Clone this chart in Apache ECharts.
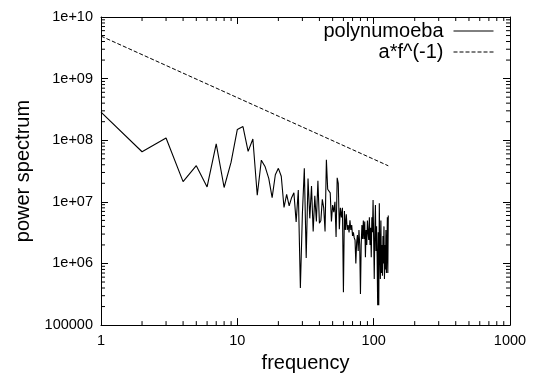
<!DOCTYPE html>
<html>
<head>
<meta charset="utf-8">
<script src="https://cdn.jsdelivr.net/npm/echarts@6/dist/echarts.min.js"></script>
<style>
html,body{margin:0;padding:0;background:#fff;}
#chart{width:536px;height:378px;}
</style>
</head>
<body>
<div id="chart"></div>
<script>
// ---- data ----
const frequency = [1,2,3,4,5,6,7,8,9,10,11,12,13,14,15,16,17,18,19,20,21,22,23,24,25,26,27,28,29,30,31,32,33,34,35,36,37,38,39,40,41,42,43,44,45,46,47,48,49,50,51,52,53,54,55,56,57,58,59,60,61,62,63,64,65,66,67,68,69,70,71,72,73,74,75,76,77,78,79,80,81,82,83,84,85,86,87,88,89,90,91,92,93,94,95,96,97,98,99,100,101,102,103,104,105,106,107,108,109,110,111,112,113,114,115,116,117,118,119,120,121,122,123,124,125,126,127,128];
const polynumoeba = [2.85e8,6.5e7,1.09e8,2.13e7,3.86e7,1.75e7,8.7e7,1.71e7,4.4e7,1.5e8,
  1.67e8,6.6e7,1.05e8,1.28e7,4.75e7,3.7e7,2.4e7,1.17e7,2.75e7,3.5e7,
  2.6e7,8.1e6,1.32e7,8.6e6,1.17e7,1.4e7,4.7e6,1.55e7,4.0e5,6.3e6,
  3.5e7,1.23e6,2.4e7,5.4e6,1.8e7,3.3e6,1.25e7,4.8e6,2.2e7,4.5e6,
  5.0e6,1.1e7,8e6,3.3e6,4.8e7,1.6e7,1.5e7,1.4e7,4.8e6,8.9e6,
  6.8e6,1.0e7,2.7e6,2.45e7,2.0e7,3.6e6,8e6,5.6e6,8e6,3.4e5,
  7.1e6,3.5e6,6.3e6,3.5e6,4.2e6,3.2e6,5e6,3.5e6,4.2e6,2.8e6,
  3.2e6,2.6e6,2.4e6,1.0e6,2.2e6,2.9e6,1.6e6,3.5e6,2e6,3.2e5,
  2e6,4.2e6,2.5e6,5e6,2.5e6,4.8e6,1.26e6,3.5e6,2e6,5e6,
  3.2e6,2.4e6,5.6e6,2e6,3.8e6,1.26e6,5.6e6,3.2e6,1.07e7,2.5e6,
  5.6e5,3.2e6,8.9e6,1.6e6,4e6,1.26e6,2.1e5,3.2e6,2.1e5,9.5e6,
  1.6e6,5.6e5,5e6,7e5,2e6,6.3e5,2.8e6,1e6,4e6,5.6e5,
  2e6,8e5,3.5e6,7e5,1.6e6,5.6e6,7e5,6e6];
const fitFrequency = [1, 128];
const fitPower = [4.9e9, 3.85e7];
const seriesNames = ['polynumoeba', 'a*f^(-1)'];
const xTickLabels = ['1','10','100','1000'];
const yTickLabels = ['100000','1e+06','1e+07','1e+08','1e+09','1e+10'];
const xMinorTicks = [2,3,4,5,6,7,8,9,20,30,40,50,60,70,80,90,200,300,400,500,600,700,800,900];
const yMinorTicks = [2e5,3e5,4e5,5e5,6e5,7e5,8e5,9e5,2e6,3e6,4e6,5e6,6e6,7e6,8e6,9e6,
  2e7,3e7,4e7,5e7,6e7,7e7,8e7,9e7,2e8,3e8,4e8,5e8,6e8,7e8,8e8,9e8,2e9,3e9,4e9,5e9,6e9,7e9,8e9,9e9];

// ---- chart ----
const FONT = 'Liberation Sans, Arial, Helvetica, sans-serif';
const chart = echarts.init(document.getElementById('chart'), null, {renderer:'canvas'});
const lineColor = '#000';
const xFmt = v => xTickLabels[Math.round(Math.log10(v))] ?? '';
const yFmt = v => yTickLabels[Math.round(Math.log10(v)) - 5] ?? '';
const axisCommon = {
  type: 'log', logBase: 10,
  axisLine: {show: true, lineStyle: {color: lineColor, width: 1}},
  axisTick: {show: true, inside: true, length: 7, lineStyle: {color: lineColor, width: 1}},
  splitLine: {show: false},
  minorTick: {show: false}
};
const minorTickSeries = (vals, isX) => ({
  type: 'custom', silent: true, z: 1,
  coordinateSystem: 'cartesian2d',
  xAxisIndex: 0, yAxisIndex: 0,
  data: vals.map(v => isX ? [v, 1e5] : [1, v]),
  renderItem: function(params, api) {
    const cs = params.coordSys;
    const p = api.coord([api.value(0), api.value(1)]);
    const st = {stroke: lineColor, lineWidth: 1};
    const L = 4;
    if (isX) {
      const x = p[0];
      return {type: 'group', children: [
        {type: 'line', shape: {x1: x, y1: cs.y + cs.height, x2: x, y2: cs.y + cs.height - L}, style: st},
        {type: 'line', shape: {x1: x, y1: cs.y, x2: x, y2: cs.y + L}, style: st}
      ]};
    } else {
      const y = p[1];
      return {type: 'group', children: [
        {type: 'line', shape: {x1: cs.x, y1: y, x2: cs.x + L, y2: y}, style: st},
        {type: 'line', shape: {x1: cs.x + cs.width, y1: y, x2: cs.x + cs.width - L, y2: y}, style: st}
      ]};
    }
  }
});

chart.setOption({
  animation: false,
  backgroundColor: '#fff',
  grid: {left: 101, right: 26, top: 17, bottom: 46, containLabel: false},
  legend: {
    data: seriesNames.map(n => ({name: n, itemStyle: {opacity: 0}})),
    orient: 'vertical',
    right: 42, top: 21,
    padding: 0,
    align: 'right',
    itemWidth: 40, itemHeight: 14, itemGap: 1,
    itemStyle: {opacity: 0},
    lineStyle: {width: 1},
    textStyle: {fontFamily: FONT, fontSize: 20, color: '#000', lineHeight: 20, padding: [0, 5, 0, 0]},
    selectedMode: false
  },
  xAxis: [
    Object.assign({}, axisCommon, {
      min: 1, max: 1000, splitNumber: 3, position: 'bottom',
      name: 'frequency', nameLocation: 'middle', nameGap: 25,
      nameTextStyle: {fontFamily: FONT, fontSize: 20, color: '#000'},
      axisLabel: {formatter: xFmt, fontFamily: FONT, fontSize: 14.5, color: '#000', margin: 8}
    }),
    Object.assign({}, axisCommon, {
      min: 1, max: 1000, splitNumber: 3, position: 'top',
      axisLabel: {show: false}
    })
  ],
  yAxis: [
    Object.assign({}, axisCommon, {
      min: 1e5, max: 1e10, splitNumber: 5, position: 'left',
      name: 'power spectrum', nameLocation: 'middle', nameGap: 67, nameRotate: 90,
      nameTextStyle: {fontFamily: FONT, fontSize: 20, color: '#000'},
      axisLabel: {formatter: yFmt, fontFamily: FONT, fontSize: 14.5, color: '#000', margin: 8}
    }),
    Object.assign({}, axisCommon, {
      min: 1e5, max: 1e10, splitNumber: 5, position: 'right',
      axisLabel: {show: false}
    })
  ],
  series: [
    minorTickSeries(xMinorTicks, true),
    minorTickSeries(yMinorTicks, false),
    {
      name: seriesNames[0], type: 'line', xAxisIndex: 0, yAxisIndex: 0,
      data: frequency.map((f, i) => [f, polynumoeba[i]]),
      symbol: 'none', showSymbol: false, z: 3,
      lineStyle: {color: '#000', width: 1.1},
      itemStyle: {color: '#000'}
    },
    {
      name: seriesNames[1], type: 'line', xAxisIndex: 0, yAxisIndex: 0,
      data: fitFrequency.map((f, i) => [f, fitPower[i]]),
      symbol: 'none', showSymbol: false, z: 3,
      lineStyle: {color: '#000', width: 1, type: [4, 2]},
      itemStyle: {color: '#000'}
    }
  ]
});
</script>
</body>
</html>
